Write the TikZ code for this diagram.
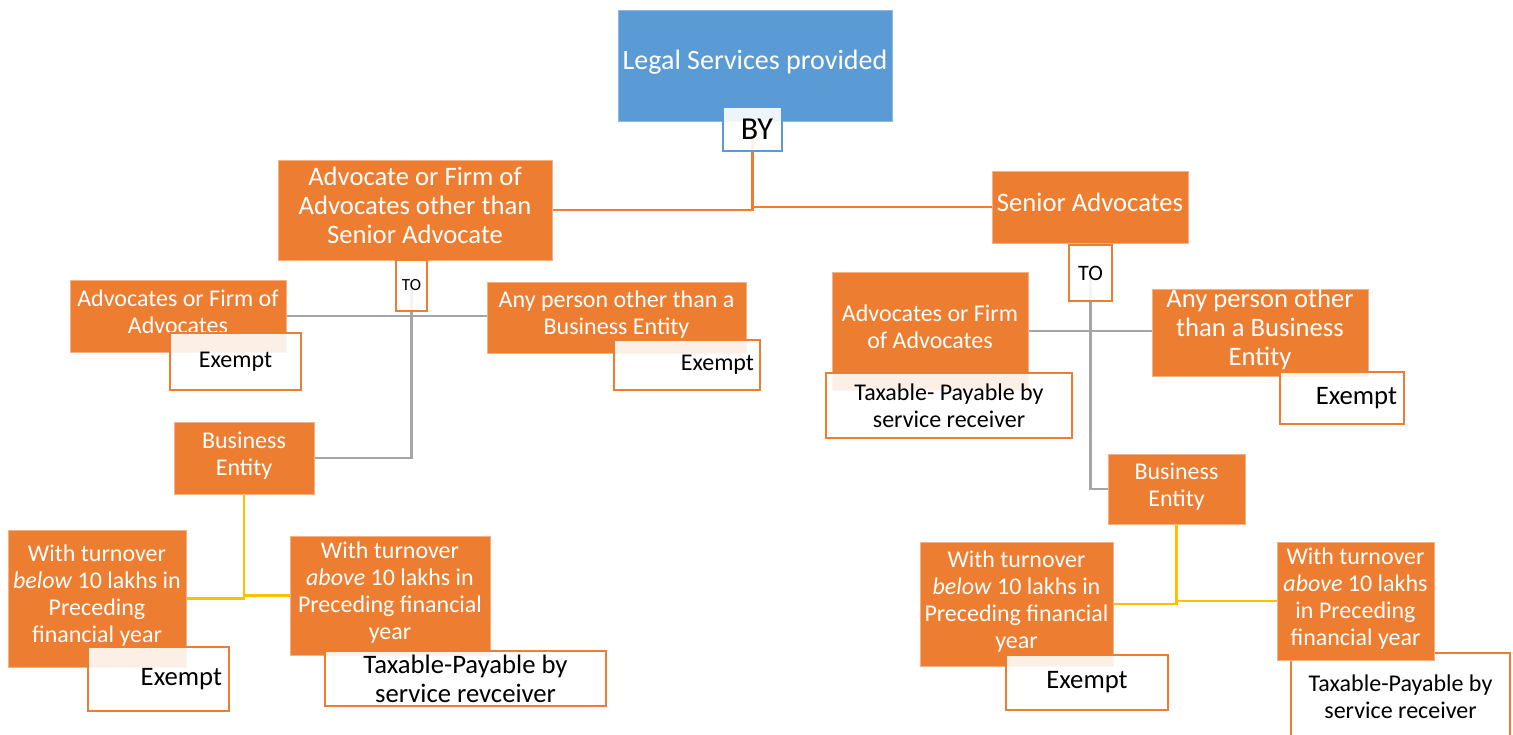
\documentclass[tikz,border=0pt]{standalone}
\usepackage{fontspec}
\setmainfont{Carlito}
\usetikzlibrary{backgrounds}
\definecolor{ora}{HTML}{ED7D31}
\definecolor{oral}{HTML}{F4B183}
\definecolor{blu}{HTML}{5B9BD5}
\definecolor{gry}{HTML}{A5A5A5}
\definecolor{yel}{HTML}{FFC000}
\newcommand{\fszT}{\fontsize{21pt}{23pt}\selectfont}
\newcommand{\fszA}{\fontsize{20pt}{21.75pt}\selectfont}
\newcommand{\fszB}{\fontsize{18pt}{20.25pt}\selectfont}
\newcommand{\fszE}{\fontsize{18pt}{20pt}\selectfont}
\newcommand{\fszEL}{\fontsize{20pt}{22pt}\selectfont}
\newcommand{\fszBY}{\fontsize{24pt}{26pt}\selectfont}
\newcommand{\fszTa}{\fontsize{12.75pt}{14pt}\selectfont}
\newcommand{\fszTb}{\fontsize{16.5pt}{18pt}\selectfont}
\newcommand{\dstrut}{\rule[-0.39em]{0pt}{0.39em}}
\begin{document}
\begin{tikzpicture}[x=0.75pt,y=-0.75pt,
  wh/.style 2 args={minimum width=#1*0.75pt, minimum height=#2*0.75pt},
  obox/.style={rectangle, fill=ora, draw=oral, line width=0.6pt, text=white, align=center, inner sep=0pt, font=\fszB, execute at end node=\dstrut},
  wbox/.style={rectangle, fill=white, fill opacity=0.88, text opacity=1, draw=ora, line width=1.5pt, text=black, align=center, inner sep=0pt, font=\fszE},
  tbox/.style={rectangle, fill=blu, draw=blu!70!white, line width=0.6pt, text=white, align=center, inner sep=0pt, font=\fszT, execute at end node=\dstrut},
  bybox/.style={rectangle, fill=white, fill opacity=0.9, text opacity=1, draw=blu, line width=1.5pt, text=black, inner sep=0pt, font=\fszBY},
  oline/.style={draw=ora, line width=1.6pt},
  gline/.style={draw=gry, line width=1.8pt},
  yline/.style={draw=yel, line width=1.8pt}]
\useasboundingbox (0,0) rectangle (1513,735);

% top
\node[tbox, wh={274}{111}] (top) at (755,65.5) {Legal Services provided};
\node[bybox, wh={59}{44}, text width=30.75pt, align=right] (by) at (752.5,129) {BY};

% level 1
\node[obox, wh={274}{100}, font=\fszA] (adv) at (415,210) {Advocate or Firm of\\Advocates other than\\Senior Advocate};
\node[obox, wh={196}{72}, font=\fszA] (sen) at (1090,207) {Senior Advocates};

% TO boxes
\node[wbox, wh={31}{51}, font=\fszTa] (to1) at (411.5,285.5) {TO};
\node[wbox, wh={43}{56}, font=\fszTb] (to2) at (1090.5,273) {TO};

% left branch
\node[obox, wh={216}{72}] (adv2) at (178,316) {Advocates or Firm of\\Advocates};
\node[wbox, wh={131}{57}] (ex1) at (235.5,361.5) {Exempt};
\node[obox, wh={259}{71}] (any1) at (616.5,317.5) {Any person other than a\\Business Entity};
\node[wbox, wh={146}{50}, text width=100.5pt, align=right] (ex2) at (687,365) {Exempt};
\node[obox, wh={140}{72}] (be1) at (244,458) {Business\\Entity};
\node[obox, wh={178}{137}] (below1) at (97,598.5) {With turnover\\\textit{below} 10 lakhs in\\Preceding\\financial year};
\node[wbox, wh={141}{64}, text width=95.25pt, align=right, font=\fszEL] (ex3) at (158.5,679) {Exempt};
\node[obox, wh={200}{119}] (above1) at (390,595.5) {With turnover\\\textit{above} 10 lakhs in\\Preceding financial\\year};
\node[wbox, wh={281}{55}, font=\fszA] (tx1) at (465.5,678.5) {Taxable-Payable by\\service revceiver};

% right branch
\node[obox, wh={196}{118}] (adv3) at (930,331) {Advocates or Firm\\of Advocates};
\node[wbox, wh={246}{65}, font=\fszB] (tx2) at (949,405.5) {Taxable- Payable by\\service receiver};
\node[obox, wh={216}{87}, font=\fszA] (any2) at (1260,332.5) {Any person other\\than a Business\\Entity};
\node[wbox, wh={124}{52}, text width=82.5pt, align=right, font=\fszEL] (ex4) at (1342,398) {Exempt};
\node[obox, wh={137}{70}] (be2) at (1176.5,489) {Business\\Entity};
\node[obox, wh={193}{124}] (below2) at (1016.5,604) {With turnover\\\textit{below} 10 lakhs in\\Preceding financial\\year};
\node[wbox, wh={162}{55}, font=\fszEL] (ex5) at (1087,682.5) {Exempt};
\node[wbox, wh={219}{87}, font=\fszB] (tx3) at (1400.5,696.5) {Taxable-Payable by\\service receiver};
\node[obox, wh={157}{118}] (above2) at (1355.5,601) {With turnover\\\textit{above} 10 lakhs\\in Preceding\\financial year};

\begin{scope}[on background layer]
\draw[oline] (by.center) |- (adv.east);
\draw[oline] (by.center) |- (sen.west);
\draw[gline] (to1.center) |- (be1.east);
\draw[gline] (adv2.east) -- (adv2.east -| any1.west);
\draw[gline] (to2.center) |- (be2.west);
\draw[gline] (adv3.east) -- (adv3.east -| any2.west);
\draw[yline] (be1.south) |- (below1.east);
\draw[yline] (be1.south) |- (above1.west);
\draw[yline] (be2.south) |- (below2.east);
\draw[yline] (be2.south) |- (above2.west);
\end{scope}
\end{tikzpicture}
\end{document}
